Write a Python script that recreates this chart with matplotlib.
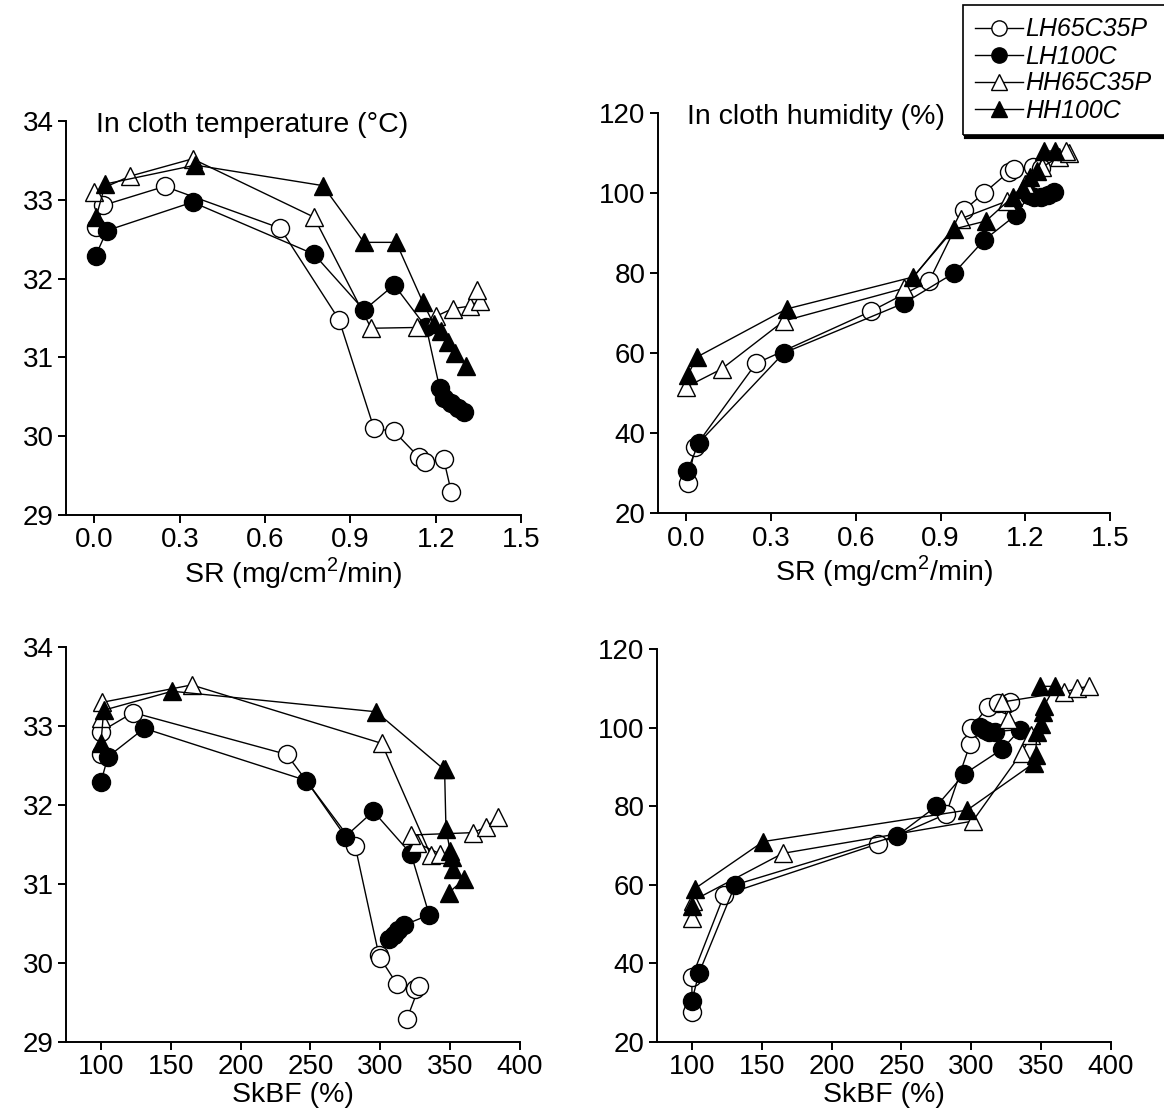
import matplotlib
matplotlib.use("Agg")
import matplotlib.pyplot as plt
from matplotlib.lines import Line2D
from matplotlib.patches import Rectangle

plt.rcParams['font.family'] = ['Liberation Sans', 'DejaVu Sans']
plt.rcParams['mathtext.fontset'] = 'custom'
plt.rcParams['mathtext.rm'] = 'Liberation Sans'

## series names and values (same sampling order in all four panels)
names = ["LH65C35P", "LH100C", "HH65C35P", "HH100C"]

lh65_sr = [0.006, 0.031, 0.247, 0.653, 0.86, 0.983, 1.054, 1.142, 1.161, 1.228, 1.255]
lh65_skbf = [100, 100, 123, 233, 282, 299, 300, 312, 325, 328, 319]
lh65_temp = [32.65, 32.93, 33.17, 32.64, 31.48, 30.10, 30.06, 29.73, 29.67, 29.71, 29.29]
lh65_hum = [27.6, 36.5, 57.4, 70.4, 78.0, 95.7, 100.0, 105.3, 106.0, 106.6, 106.2]

lh100_sr = [0.004, 0.044, 0.345, 0.772, 0.948, 1.054, 1.167, 1.214, 1.23, 1.255, 1.28, 1.30]
lh100_skbf = [100, 105, 131, 247, 275, 295, 322, 335, 317, 313, 310, 306]
lh100_temp = [32.29, 32.61, 32.97, 32.31, 31.60, 31.92, 31.38, 30.61, 30.48, 30.42, 30.36, 30.31]
lh100_hum = [30.5, 37.5, 60.0, 72.5, 80.0, 88.2, 94.5, 99.5, 99.0, 99.0, 99.5, 100.2]

hh65_sr = [0.0, 0.125, 0.345, 0.772, 0.973, 1.136, 1.20, 1.26, 1.32, 1.355, 1.345]
hh65_skbf = [100, 101, 165, 301, 336, 343, 326, 322, 366, 376, 384]
hh65_temp = [33.10, 33.30, 33.52, 32.78, 31.37, 31.38, 31.52, 31.62, 31.65, 31.72, 31.85]
hh65_hum = [51.5, 56.0, 68.0, 76.2, 93.6, 98.0, 102.2, 106.5, 109.0, 110.0, 110.5]

hh100_sr = [0.006, 0.038, 0.355, 0.803, 0.948, 1.061, 1.155, 1.193, 1.218, 1.243, 1.268, 1.306]
hh100_skbf = [100, 102, 151, 297, 345, 346, 347, 350, 351, 352, 360, 349]
hh100_temp = [32.78, 33.20, 33.44, 33.18, 32.46, 32.46, 31.70, 31.42, 31.34, 31.19, 31.06, 30.89]
hh100_hum = [54.6, 59.0, 71.0, 79.0, 91.0, 93.0, 99.0, 101.0, 104.0, 105.5, 110.5, 110.5]

sr_ticks = [0.0, 0.3, 0.6, 0.9, 1.2, 1.5]
skbf_ticks = [100, 150, 200, 250, 300, 350, 400]
temp_ticks = [29, 30, 31, 32, 33, 34]
hum_ticks = [20, 40, 60, 80, 100, 120]

sr_all = [lh65_sr, lh100_sr, hh65_sr, hh100_sr]
skbf_all = [lh65_skbf, lh100_skbf, hh65_skbf, hh100_skbf]
temp_all = [lh65_temp, lh100_temp, hh65_temp, hh100_temp]
hum_all = [lh65_hum, lh100_hum, hh65_hum, hh100_hum]

## marker styles: open circle, filled circle, open triangle, filled triangle
styles = [("o", "white"), ("o", "black"), ("^", "white"), ("^", "black")]


def draw_panel(ax, xs, ys, xlim, ylim, xticks, yticks, xfmt, xlabel, title=None):
    for x, y, (m, fc) in zip(xs, ys, styles):
        ax.plot(x, y, color="black", lw=1.0, marker=m, markersize=13,
                markerfacecolor=fc, markeredgecolor="black", markeredgewidth=1.0,
                clip_on=False)
    ax.set_xlim(*xlim)
    ax.set_ylim(*ylim)
    ax.set_xticks(xticks)
    ax.set_xticklabels([xfmt % t for t in xticks])
    ax.set_yticks(yticks)
    ax.spines["top"].set_visible(False)
    ax.spines["right"].set_visible(False)
    ax.spines["left"].set_linewidth(1.4)
    ax.spines["bottom"].set_linewidth(1.4)
    ax.tick_params(direction="out", length=6, width=1.4, labelsize=20, pad=3)
    ax.set_xlabel(xlabel, fontsize=20.5, labelpad=1)
    if title:
        ax.text(0.065, 0.99, title, transform=ax.transAxes, fontsize=20.5,
                ha="left", va="center")


fig = plt.figure(figsize=(11.64, 11.19), dpi=100)

W, H = 1164.0, 1119.0
def box(l, r, t, b):
    return [l / W, 1 - b / H, (r - l) / W, (b - t) / H]

ax1 = fig.add_axes(box(66, 521, 121, 515))
draw_panel(ax1, sr_all, temp_all, (-0.1, 1.5), (29, 34), sr_ticks, temp_ticks,
           "%.1f", "SR (mg/cm$^2$/min)", "In cloth temperature (°C)")

ax2 = fig.add_axes(box(658, 1110, 113, 513))
draw_panel(ax2, sr_all, hum_all, (-0.1, 1.5), (20, 120), sr_ticks, hum_ticks,
           "%.1f", "SR (mg/cm$^2$/min)", "In cloth humidity (%)")

ax3 = fig.add_axes(box(66, 520, 647, 1042))
draw_panel(ax3, skbf_all, temp_all, (75, 400), (29, 34), skbf_ticks, temp_ticks,
           "%d", "SkBF (%)")

ax4 = fig.add_axes(box(657, 1111, 649, 1042))
draw_panel(ax4, skbf_all, hum_all, (75, 400), (20, 120), skbf_ticks, hum_ticks,
           "%d", "SkBF (%)")

## legend at the top right corner; its box runs off the right edge
handles = [Line2D([], [], color="black", lw=1.0, marker=m, markersize=11,
                  markerfacecolor=fc, markeredgecolor="black")
           for (m, fc) in styles]
leg = fig.legend(handles, names, loc="upper left",
                 bbox_to_anchor=(963 / W, 1 - 5 / H),
                 frameon=False, handlelength=1.9,
                 handletextpad=0.1, borderpad=0.5, labelspacing=0.12,
                 borderaxespad=0.0, prop={"style": "italic", "size": 18})

fig.canvas.draw()
bb = leg.get_window_extent().transformed(fig.transFigure.inverted())
fig.add_artist(Rectangle((bb.x0, bb.y0), 1.05 - bb.x0, bb.y1 - bb.y0,
                         transform=fig.transFigure, fill=False,
                         edgecolor="black", lw=1.2, clip_on=False))
fig.add_artist(Line2D([bb.x0 + 0.003, 1.0], [bb.y0 - 0.002, bb.y0 - 0.002],
                      color="black", lw=3, transform=fig.transFigure))

fig.savefig("out.png", dpi=100)
